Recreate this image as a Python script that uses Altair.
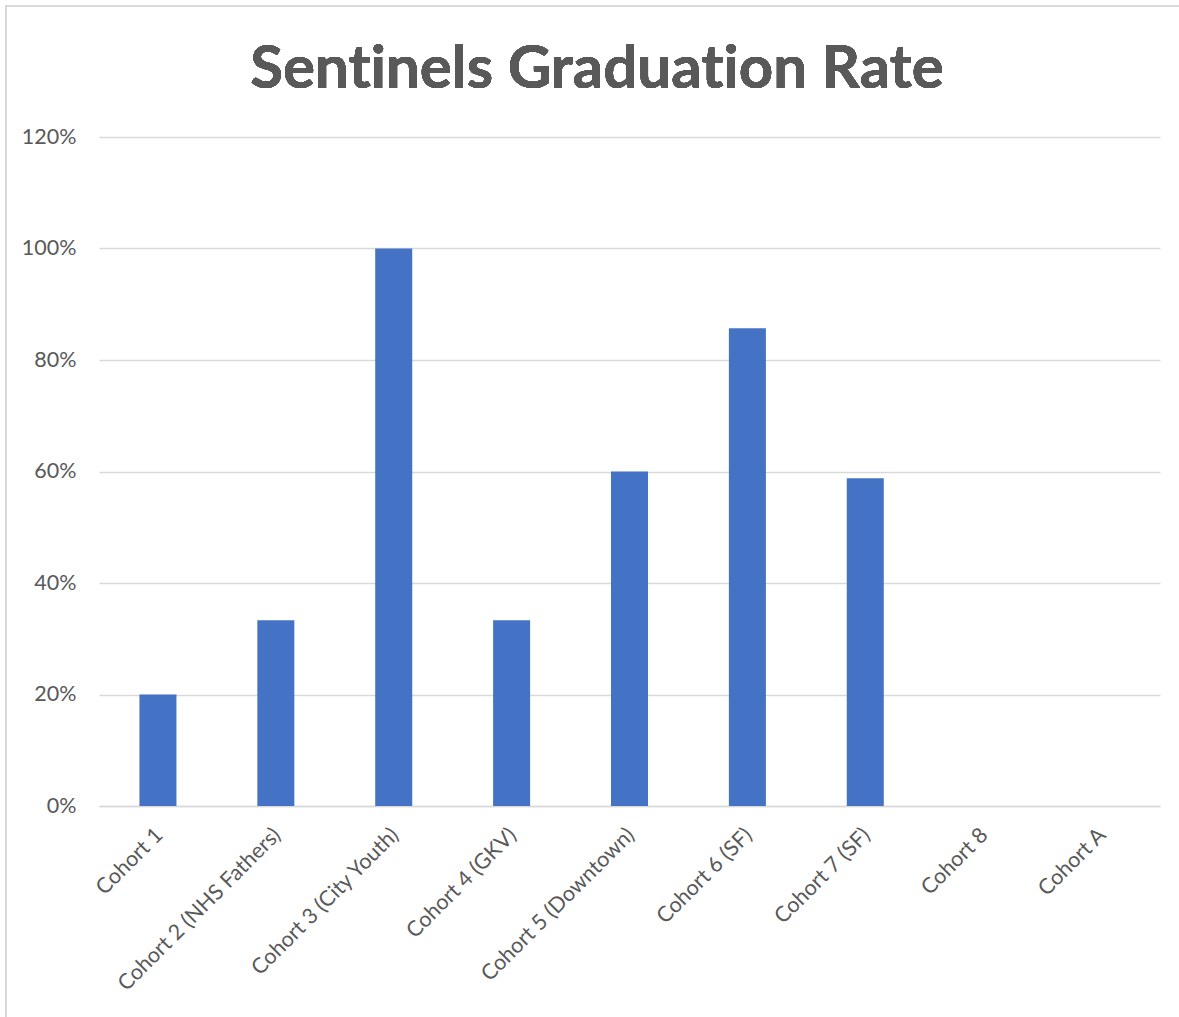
import altair as alt
import pandas as pd

# Graduation rate per cohort (fraction of participants who graduated)
cohorts = [
    "Cohort 1",
    "Cohort 2 (NHS Fathers)",
    "Cohort 3 (City Youth)",
    "Cohort 4 (GKV)",
    "Cohort 5 (Downtown)",
    "Cohort 6 (SF)",
    "Cohort 7 (SF)",
    "Cohort 8",
    "Cohort A",
]
rates = [0.20, 0.333, 1.00, 0.333, 0.60, 0.857, 0.588, 0.0, 0.0]
chart_title = "Sentinels Graduation Rate"

df = pd.DataFrame({"cohort": cohorts, "rate": rates})

TEXT = "#595959"
GRID = "#D9D9D9"
BAR = "#4472C4"
FONT = "Lato"

bars = alt.Chart(df).mark_bar(color=BAR).encode(
    x=alt.X(
        "cohort:N",
        sort=cohorts,
        scale=alt.Scale(paddingInner=0.686, paddingOuter=0.343),
        axis=alt.Axis(
            title=None,
            labelAngle=-45,
            labelFont=FONT,
            labelFontSize=21.5,
            labelColor=TEXT,
            labelPadding=18,
            labelOffset=-6,
            labelLimit=400,
            ticks=False,
            domain=True,
            domainColor=GRID,
            domainWidth=1.5,
            grid=False,
        ),
    ),
    y=alt.Y(
        "rate:Q",
        scale=alt.Scale(domain=[0, 1.2], nice=False),
        axis=alt.Axis(
            title=None,
            format=".0%",
            values=[0, 0.2, 0.4, 0.6, 0.8, 1.0, 1.2],
            labelFont=FONT,
            labelFontSize=21.5,
            labelColor=TEXT,
            labelPadding=23,
            ticks=False,
            domain=False,
            grid=True,
            gridColor=GRID,
            gridWidth=1.5,
        ),
    ),
)

# Light frame around the whole chart area
frame = alt.Chart(df).mark_rect(
    fill=None, stroke=GRID, strokeWidth=1.5, clip=False
).encode(
    x=alt.value(-93), x2=alt.value(1100),
    y=alt.value(-131), y2=alt.value(900),
)

# Chart heading, centred over the chart area
# (a zero-width non-joiner keeps "t" and "i" as separate glyphs in Lato)
heading_text = chart_title.replace("ti", "t\u200ci")
heading = alt.Chart(df).mark_text(
    font=FONT,
    fontSize=60,
    fontWeight="bold",
    color=TEXT,
    align="center",
    baseline="alphabetic",
).encode(
    x=alt.value(498),
    y=alt.value(-49),
    text=alt.value(heading_text),
)

chart = (
    alt.layer(frame, bars, heading)
    .properties(
        width=1061,
        height=669,
        padding={"left": 99, "top": 137, "right": 19, "bottom": 211},
        autosize=alt.AutoSizeParams(type="none"),
    )
    .configure(background="white")
    .configure_view(stroke="transparent", strokeWidth=0)
)

chart.save("out.html", embed_options={"renderer": "svg", "actions": False})
